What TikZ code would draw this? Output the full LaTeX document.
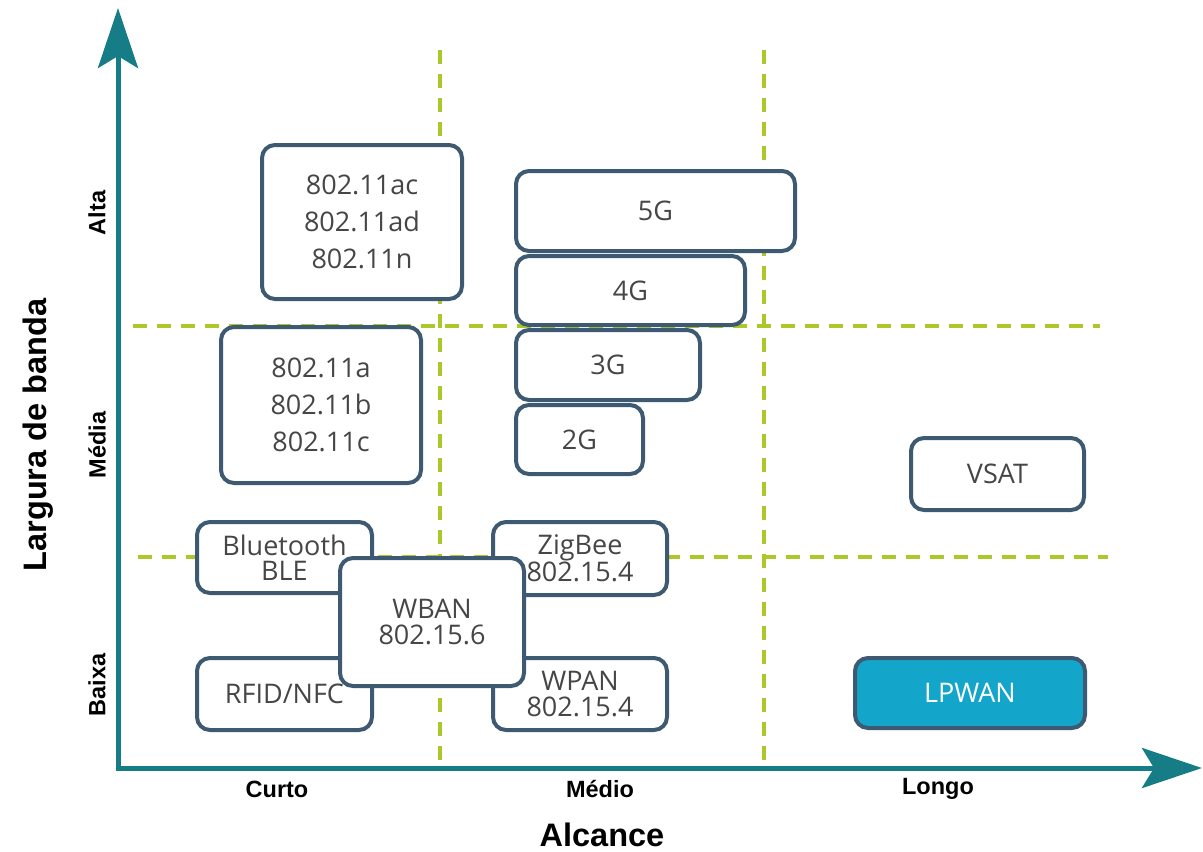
\documentclass[tikz,border=0pt]{standalone}
\usepackage{fontspec}
\setmainfont{Open Sans}
\newfontfamily\axfont{Liberation Sans}
\usetikzlibrary{arrows.meta}
\definecolor{axisteal}{RGB}{22,124,134}
\definecolor{boxline}{RGB}{62,90,115}
\definecolor{gridgreen}{RGB}{170,200,40}
\definecolor{lpfill}{RGB}{20,166,202}
\definecolor{txtgray}{RGB}{70,70,70}
\tikzset{
  axisline/.style={draw=axisteal, line width=5pt, {Stealth[length=60pt,width=40pt,inset=12pt]}-{Stealth[length=60pt,width=40pt,inset=12pt]}},
  grid line/.style={draw=gridgreen, line width=4pt, dash pattern=on 14pt off 10pt},
  techbox/.style={draw=boxline, line width=4pt, rounded corners=13pt, fill=white, text=txtgray,
    align=center, inner sep=0pt, font=\fontsize{27}{37}\selectfont},
  tight/.style={font=\fontsize{27}{25.5}\selectfont},
  lpbox/.style={techbox, fill=lpfill, text=white},
  axlab/.style={font=\axfont\bfseries\fontsize{23.5}{26}\selectfont, text=black},
  axtitle/.style={font=\axfont\bfseries\fontsize{32.5}{36}\selectfont, text=black},
}
\begin{document}
\begin{tikzpicture}[x=1pt,y=-1pt]
\useasboundingbox (0,0) rectangle (1203,852);
% grid
\coordinate (v1t) at (440,50); \coordinate (v1b) at (440,762);
\coordinate (v2t) at (764,50); \coordinate (v2b) at (764,762);
\coordinate (h1l) at (133,326); \coordinate (h1r) at (1100,326);
\coordinate (h2l) at (138,557); \coordinate (h2r) at (1108,557);
\draw[grid line] (v1t) -- (v1b);
\draw[grid line] (v2t) -- (v2b);
\draw[grid line] (h1l) -- (h1r);
\draw[grid line] (h2l) -- (h2r);
% axes
\coordinate (O) at (118,768);
\coordinate (ytip) at (118,8);
\coordinate (xtip) at (1202,768);
\draw[axisline] (ytip) -- (O) -- (xtip);
% boxes
\node[techbox, minimum width=200pt, minimum height=154pt] (wifiH) at (362,222) {802.11ac\\802.11ad\\802.11n};
\node[techbox, minimum width=200pt, minimum height=156pt] (wifiM) at (321,405) {802.11a\\802.11b\\802.11c};
\node[techbox, minimum width=279pt, minimum height=80pt] (g5) at (655.5,211) {5G};
\node[techbox, minimum width=229pt, minimum height=69pt] (g4) at (630.5,290.5) {4G};
\node[techbox, minimum width=184pt, minimum height=70pt] (g3) at (608,365) {3G};
\node[techbox, minimum width=127pt, minimum height=69pt] (g2) at (579.5,439.5) {2G};
\node[techbox, minimum width=173pt, minimum height=72pt] (vsat) at (997.5,474) {VSAT};
\node[techbox, tight, minimum width=175pt, minimum height=71pt] (bt) at (284.5,557.5) {Bluetooth\\BLE};
\node[techbox, tight, minimum width=174pt, minimum height=73pt] (zig) at (580,558.5) {ZigBee\\802.15.4};
\node[techbox, minimum width=175pt, minimum height=72pt] (rfid) at (284.5,694) {RFID/NFC};
\node[techbox, tight, minimum width=174pt, minimum height=72pt] (wpan) at (580,694) {WPAN\\802.15.4};
\node[techbox, tight, minimum width=184pt, minimum height=128pt] (wban) at (432,622) {WBAN\\802.15.6};
\node[lpbox, minimum width=230pt, minimum height=70pt] (lpwan) at (970,693) {LPWAN};
% axis labels
\node[axlab] (curto) at (277,789) {Curto};
\node[axlab] (medio) at (600,789) {Médio};
\node[axlab] (longo) at (938,789) {Longo};
\node[axtitle] (alc) at (602,835) {Alcance};
\node[axlab, rotate=90] (alta) at (97,213) {Alta};
\node[axlab, rotate=90] (media) at (97,445) {Média};
\node[axlab, rotate=90] (baixa) at (97,685) {Baixa};
\node[axtitle, rotate=90] (larg) at (38,435) {Largura de banda};
\end{tikzpicture}
\end{document}
